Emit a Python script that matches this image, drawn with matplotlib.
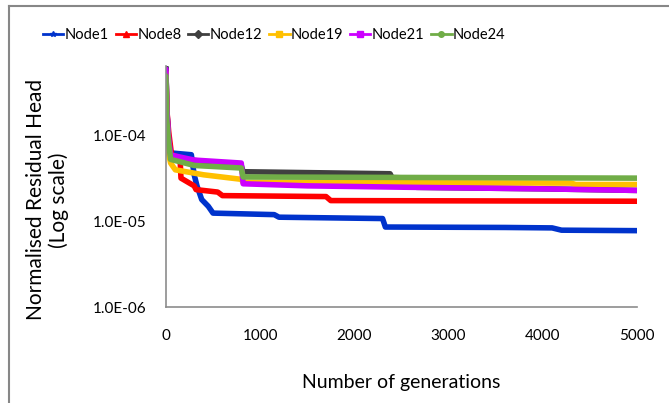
import matplotlib
matplotlib.use("Agg")
import matplotlib.pyplot as plt
from matplotlib.lines import Line2D

# (generation, normalised residual head) breakpoints
gen1 = [0, 10, 25, 50, 270, 300, 330, 380, 450, 500, 1150, 1200, 2300, 2330, 3600, 4100, 4200, 5000]
node1 = [6.2e-4, 2.0e-4, 9e-5, 6.3e-5, 6.0e-5, 3.5e-5, 2.6e-5, 1.8e-5, 1.5e-5, 1.25e-5, 1.2e-5, 1.12e-5,
         1.08e-5, 8.6e-6, 8.5e-6, 8.4e-6, 7.9e-6, 7.8e-6]

gen8 = [0, 10, 30, 60, 150, 160, 300, 320, 550, 600, 1700, 1750, 5000]
node8 = [6e-4, 2e-4, 1.1e-4, 6e-5, 5.5e-5, 3.2e-5, 2.6e-5, 2.35e-5, 2.2e-5, 2.0e-5, 1.95e-5, 1.75e-5, 1.72e-5]

gen12 = [0, 10, 30, 60, 800, 820, 2380, 2400, 2640, 2660, 4000, 5000]
node12 = [6.3e-4, 2e-4, 8e-5, 5.5e-5, 4.5e-5, 3.8e-5, 3.6e-5, 3.25e-5, 3.2e-5, 2.5e-5, 2.4e-5, 2.3e-5]

gen19 = [0, 10, 30, 50, 100, 400, 800, 820, 4300, 4350, 5000]
node19 = [5.5e-4, 1.8e-4, 6e-5, 4.8e-5, 4.0e-5, 3.5e-5, 3.1e-5, 2.85e-5, 2.8e-5, 2.7e-5, 2.7e-5]

gen21 = [0, 10, 30, 50, 100, 300, 800, 820, 1500, 2600, 4000, 5000]
node21 = [6e-4, 2e-4, 9e-5, 6e-5, 5.8e-5, 5.2e-5, 4.8e-5, 2.75e-5, 2.6e-5, 2.5e-5, 2.4e-5, 2.3e-5]

gen24 = [0, 10, 30, 50, 300, 800, 820, 5000]
node24 = [5e-4, 1.5e-4, 8e-5, 5.3e-5, 4.5e-5, 4.2e-5, 3.3e-5, 3.2e-5]

series = [
    ("Node1", gen1, node1, "#0033CC", "*"),
    ("Node8", gen8, node8, "#FF0000", "^"),
    ("Node12", gen12, node12, "#404040", "D"),
    ("Node19", gen19, node19, "#FFC000", "s"),
    ("Node21", gen21, node21, "#CC00FF", "s"),
    ("Node24", gen24, node24, "#70AD47", "o"),
]

x_ticks = [0, 1000, 2000, 3000, 4000, 5000]
y_ticks = [1e-6, 1e-5, 1e-4]
y_labels = ["1.0E-06", "1.0E-05", "1.0E-04"]

plt.rcParams["font.family"] = ["Lato", "DejaVu Sans"]

fig = plt.figure(figsize=(6.69, 4.03), dpi=100)
ax = fig.add_axes([0.248, 0.238, 0.704, 0.598])

for name, g, v, c, m in series:
    ax.plot(g, v, color=c, lw=4, solid_capstyle="round", solid_joinstyle="round")

ax.set_yscale("log")
ax.set_ylim(1e-6, 6.5e-4)
ax.set_xlim(0, 5000)
ax.set_xticks(x_ticks)
ax.set_xticklabels([str(t) for t in x_ticks])
ax.set_yticks(y_ticks)
ax.set_yticklabels(y_labels)
ax.yaxis.set_minor_locator(matplotlib.ticker.NullLocator())
ax.tick_params(axis="both", length=0, labelsize=11, colors="black")
ax.tick_params(axis="x", pad=16)
ax.tick_params(axis="y", pad=14)

for s in ["top", "right"]:
    ax.spines[s].set_visible(False)
for s in ["left", "bottom"]:
    ax.spines[s].set_color("#8c8c8c")
    ax.spines[s].set_linewidth(1.2)

ax.set_xlabel("Number of generations", fontsize=14, labelpad=22)
ax.set_ylabel("Normalised Residual Head\n(Log scale)", fontsize=15, linespacing=1.15)
ax.yaxis.set_label_coords(-0.205, 0.445)

handles = [Line2D([0], [0], color=c, lw=2, marker=m, markersize=4) for _, _, _, c, m in series]
fig.legend(handles, [s[0] for s in series], loc="center", bbox_to_anchor=(0.41, 0.913),
           ncol=6, frameon=False, handlelength=1.4, handletextpad=0.1, columnspacing=0.45,
           prop={"size": 10.5})

# frame of the chart area (cropped on the right and bottom)
fig.add_artist(Line2D([9 / 669, 9 / 669], [0, 1 - 6 / 403], color="#878787", lw=1.5))
fig.add_artist(Line2D([9 / 669, 1], [1 - 6 / 403, 1 - 6 / 403], color="#878787", lw=1.5))

fig.savefig("out.png", dpi=100)
